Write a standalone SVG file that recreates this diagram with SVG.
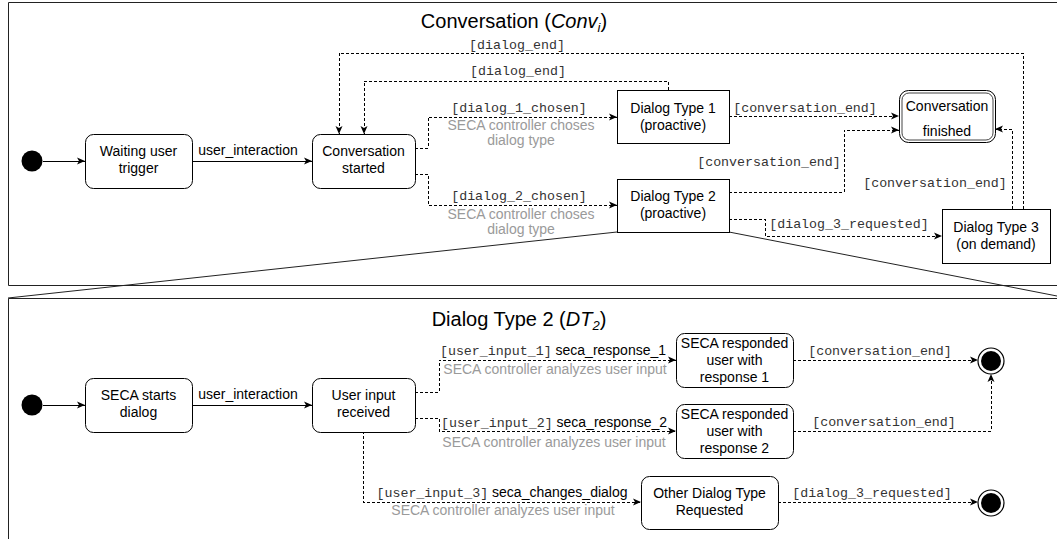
<svg xmlns="http://www.w3.org/2000/svg" width="1057" height="539" viewBox="0 0 1057 539">
  <style>
    .frame { fill: none; stroke: #222; stroke-width: 1; }
    .zoom { fill: none; stroke: #222; stroke-width: 1; }
    .state { fill: #fff; stroke: #000; stroke-width: 1; }
    .solid { fill: none; stroke: #000; stroke-width: 1; shape-rendering: crispEdges; }
    .dash { fill: none; stroke: #000; stroke-width: 1; stroke-dasharray: 3 2; shape-rendering: crispEdges; }
    .t { font-family: "Liberation Sans", Arial, sans-serif; font-size: 14px; fill: #000; text-anchor: middle; }
    .title { font-family: "Liberation Sans", Arial, sans-serif; font-size: 20px; fill: #000; text-anchor: middle; }
    .m { font-family: "Liberation Mono", "Courier New", monospace; font-size: 13.3px; fill: #333; text-anchor: middle; }
    .g { font-family: "Liberation Sans", Arial, sans-serif; font-size: 14px; fill: #9a9a9a; text-anchor: middle; }
    .mono { font-family: "Liberation Mono", "Courier New", monospace; font-size: 13.3px; fill: #333; }
    .sans { font-family: "Liberation Sans", Arial, sans-serif; font-size: 14px; fill: #000; }
  </style>
  <defs>
    <marker id="arrow" viewBox="0 0 8 8" refX="8" refY="4" markerWidth="8" markerHeight="8" markerUnits="userSpaceOnUse" orient="auto">
      <path d="M0,0.5 L8,4 L0,7.5 L2,4 Z" fill="#000"/>
    </marker>
  </defs>

  <rect width="1057" height="539" fill="#fff"/>

  <!-- Frames -->
  <g id="frame-conversation">
    <path class="frame" d="M1070,2.5 H8.5 V285.5 H1070"/>
    <text class="title" x="514" y="28">Conversation (<tspan font-style="italic">Conv</tspan><tspan font-style="italic" font-size="13" dy="4">i</tspan><tspan dy="-4">)</tspan></text>
  </g>
  <g id="frame-dialog-type-2">
    <path class="frame" d="M1070,298.5 H8.5 V560"/>
    <text class="title" x="519" y="326">Dialog Type 2 (<tspan font-style="italic">DT</tspan><tspan font-style="italic" font-size="13" dy="4">2</tspan><tspan dy="-4">)</tspan></text>
  </g>

  <!-- Zoom lines from Dialog Type 2 to its detail frame -->
  <g id="zoom-lines">
    <path class="zoom" d="M617,232 L8,298"/>
    <path class="zoom" d="M729,232 L1057,296"/>
  </g>

  <!-- Connectors -->
  <g id="connectors">
    <!-- Conversation level -->
    <path class="solid" d="M43,161 H85" marker-end="url(#arrow)"/>
    <path class="solid" d="M192,161 H312" marker-end="url(#arrow)"/>
    <text class="t" x="248" y="155">user_interaction</text>

    <path class="dash" d="M415,148 H428 V117 H617" marker-end="url(#arrow)"/>
    <text class="m" x="519" y="112">[dialog_1_chosen]</text>
    <text class="g" x="521" y="130">SECA controller choses</text>
    <text class="g" x="521" y="145">dialog type</text>

    <path class="dash" d="M415,174 H428 V205 H617" marker-end="url(#arrow)"/>
    <text class="m" x="519" y="200">[dialog_2_chosen]</text>
    <text class="g" x="521" y="219">SECA controller choses</text>
    <text class="g" x="521" y="234">dialog type</text>

    <path class="dash" d="M668,90 V81 H364 V134" marker-end="url(#arrow)"/>
    <text class="m" x="518" y="75">[dialog_end]</text>

    <path class="dash" d="M1023,209 V53 H339 V134" marker-end="url(#arrow)"/>
    <text class="m" x="517" y="49">[dialog_end]</text>

    <path class="dash" d="M729,116 H899" marker-end="url(#arrow)"/>
    <text class="m" x="805" y="112">[conversation_end]</text>

    <path class="dash" d="M729,192 H844 V130 H899" marker-end="url(#arrow)"/>
    <text class="m" x="769" y="166">[conversation_end]</text>

    <path class="dash" d="M729,219 H765 V236 H942" marker-end="url(#arrow)"/>
    <text class="m" x="849" y="228">[dialog_3_requested]</text>

    <path class="dash" d="M1012,209 V129 H995" marker-end="url(#arrow)"/>
    <text class="m" x="935" y="187">[conversation_end]</text>

    <!-- Dialog type 2 level -->
    <path class="solid" d="M43,405 H85" marker-end="url(#arrow)"/>
    <path class="solid" d="M192,405 H312" marker-end="url(#arrow)"/>
    <text class="t" x="248" y="399">user_interaction</text>

    <path class="dash" d="M415,392 H439 V360 H676" marker-end="url(#arrow)"/>
    <text x="553" y="355" text-anchor="middle"><tspan class="mono">[user_input_1]</tspan><tspan class="sans"> seca_response_1</tspan></text>
    <text class="g" x="555" y="374">SECA controller analyzes user input</text>

    <path class="dash" d="M415,418 H439 V431 H676" marker-end="url(#arrow)"/>
    <text x="554" y="427" text-anchor="middle"><tspan class="mono">[user_input_2]</tspan><tspan class="sans"> seca_response_2</tspan></text>
    <text class="g" x="554" y="447">SECA controller analyzes user input</text>

    <path class="dash" d="M363,431 V502 H641" marker-end="url(#arrow)"/>
    <text x="502" y="497" text-anchor="middle"><tspan class="mono">[user_input_3]</tspan><tspan class="sans"> seca_changes_dialog</tspan></text>
    <text class="g" x="503" y="515">SECA controller analyzes user input</text>

    <path class="dash" d="M793,360 H978" marker-end="url(#arrow)"/>
    <text class="m" x="880" y="355">[conversation_end]</text>

    <path class="dash" d="M793,431 H991 V374" marker-end="url(#arrow)"/>
    <text class="m" x="884" y="426">[conversation_end]</text>

    <path class="dash" d="M778,502 H978" marker-end="url(#arrow)"/>
    <text class="m" x="872" y="497">[dialog_3_requested]</text>
  </g>

  <!-- Conversation states -->
  <g id="conv-initial">
    <circle cx="32" cy="161" r="10.5" fill="#000"/>
  </g>
  <g id="waiting-user-trigger">
    <rect class="state" x="85.5" y="134.5" width="107" height="54" rx="8"/>
    <text class="t" x="138.5" y="156">Waiting user</text>
    <text class="t" x="138.5" y="173">trigger</text>
  </g>
  <g id="conversation-started">
    <rect class="state" x="312.5" y="134.5" width="103" height="54" rx="8"/>
    <text class="t" x="363.5" y="156">Conversation</text>
    <text class="t" x="363.5" y="173">started</text>
  </g>
  <g id="dialog-type-1">
    <rect class="state" x="617.5" y="90.5" width="112" height="53"/>
    <text class="t" x="673" y="113">Dialog Type 1</text>
    <text class="t" x="673" y="130">(proactive)</text>
  </g>
  <g id="dialog-type-2">
    <rect class="state" x="617.5" y="179.5" width="112" height="53"/>
    <text class="t" x="673" y="201">Dialog Type 2</text>
    <text class="t" x="673" y="218">(proactive)</text>
  </g>
  <g id="dialog-type-3">
    <rect class="state" x="942.5" y="209.5" width="108" height="54"/>
    <text class="t" x="996" y="232">Dialog Type 3</text>
    <text class="t" x="996" y="249">(on demand)</text>
  </g>
  <g id="conversation-finished">
    <rect class="state" x="899.5" y="90.5" width="96" height="52" rx="9" stroke="#444"/>
    <rect x="902" y="93" width="91" height="47" rx="7" fill="none" stroke="#444" stroke-width="1"/>
    <text class="t" x="947" y="111">Conversation</text>
    <text class="t" x="947" y="136">finished</text>
  </g>

  <!-- Dialog type 2 states -->
  <g id="dt2-initial">
    <circle cx="32" cy="405" r="10.5" fill="#000"/>
  </g>
  <g id="seca-starts-dialog">
    <rect class="state" x="85.5" y="378.5" width="107" height="54" rx="8"/>
    <text class="t" x="138.5" y="400">SECA starts</text>
    <text class="t" x="138.5" y="417">dialog</text>
  </g>
  <g id="user-input-received">
    <rect class="state" x="312.5" y="378.5" width="103" height="54" rx="8"/>
    <text class="t" x="363.5" y="400">User input</text>
    <text class="t" x="363.5" y="417">received</text>
  </g>
  <g id="seca-responded-1">
    <rect class="state" x="676.5" y="333.5" width="117" height="54" rx="8"/>
    <text class="t" x="734.5" y="348">SECA responded</text>
    <text class="t" x="734.5" y="365">user with</text>
    <text class="t" x="734.5" y="382">response 1</text>
  </g>
  <g id="seca-responded-2">
    <rect class="state" x="676.5" y="404.5" width="117" height="54" rx="8"/>
    <text class="t" x="734.5" y="419">SECA responded</text>
    <text class="t" x="734.5" y="436">user with</text>
    <text class="t" x="734.5" y="453">response 2</text>
  </g>
  <g id="other-dialog-type">
    <rect class="state" x="641.5" y="476.5" width="137" height="53" rx="8"/>
    <text class="t" x="709.5" y="498">Other Dialog Type</text>
    <text class="t" x="709.5" y="515">Requested</text>
  </g>
  <g id="dt2-final-1">
    <circle cx="991" cy="361" r="13" fill="#fff" stroke="#000" stroke-width="1.2"/>
    <circle cx="991" cy="361" r="10" fill="#000"/>
  </g>
  <g id="dt2-final-2">
    <circle cx="991" cy="503" r="13" fill="#fff" stroke="#000" stroke-width="1.2"/>
    <circle cx="991" cy="503" r="10" fill="#000"/>
  </g>
</svg>
